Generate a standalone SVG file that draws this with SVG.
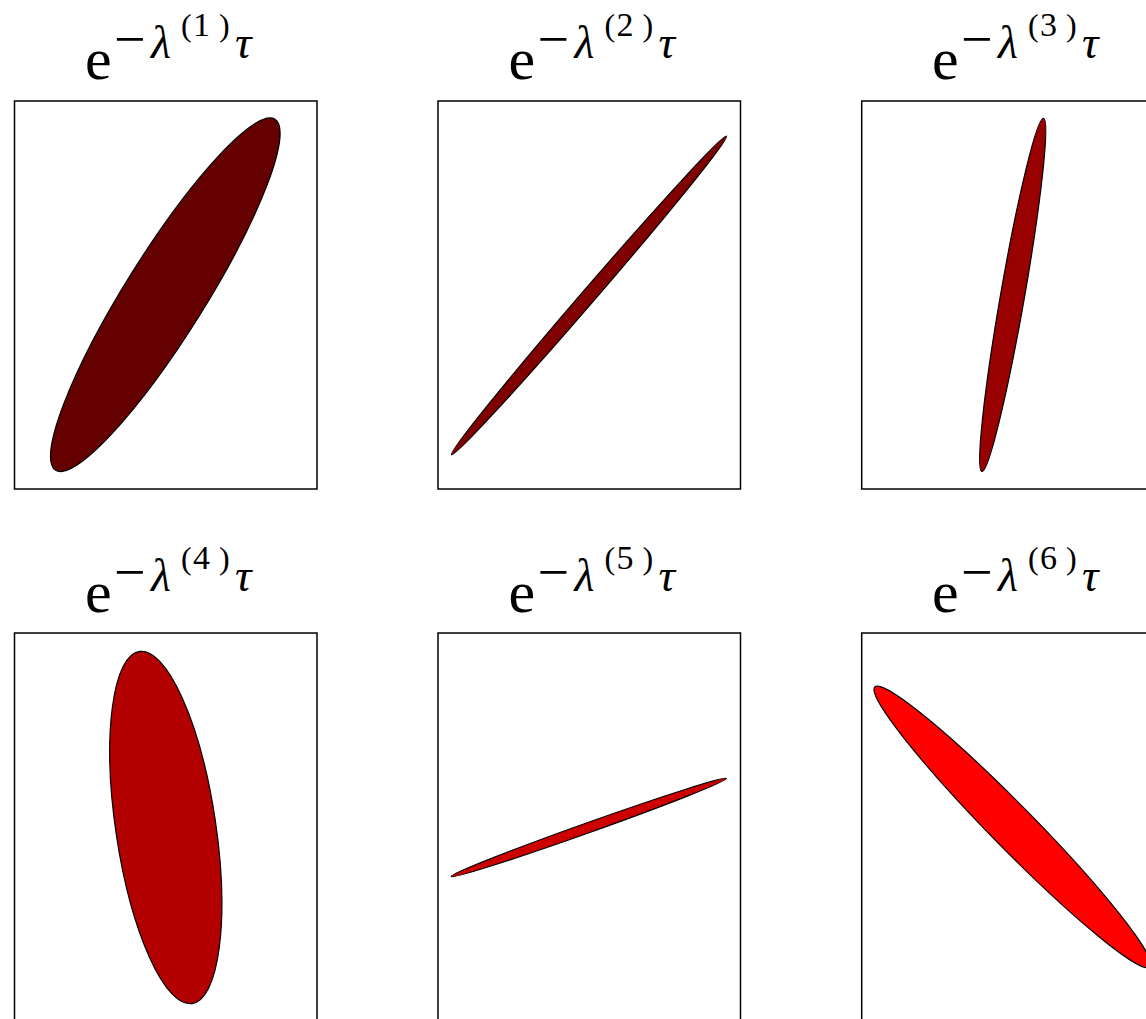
<svg xmlns="http://www.w3.org/2000/svg" width="1146" height="1019" viewBox="0 0 1146 1019">
<style>
.frame{fill:none;stroke:#000;stroke-width:1.5}
.ell{stroke:#000;stroke-width:1.2}
.t{font-family:"Liberation Serif","DejaVu Serif",serif;fill:#000}
.e{font-size:60px}
.m{font-size:56px}
.g{font-size:46px;font-style:italic}
.s{font-size:32px}
.d{font-size:34px}
</style>
<rect width="1146" height="1019" fill="#fff"/>
<defs>
<g id="title">
<text class="t e" x="85" y="79">e</text>
<text class="t m" x="114" y="58">−</text>
<text class="t g" x="151" y="58">λ</text>
<text class="t s" y="36"><tspan x="181">(</tspan><tspan x="219">)</tspan></text>
<text class="t g" x="235" y="58">τ</text>
</g>
</defs>
<g id="panel1">
<use href="#title"/>
<text class="t d" x="193" y="36">1</text>
<rect class="frame" x="14.5" y="101" width="302.5" height="388"/>
<ellipse class="ell" fill="#640000" cx="165.3" cy="294.8" rx="207" ry="40" transform="rotate(-58 165.3 294.8)"/>
</g>
<g id="panel2">
<use href="#title" x="423.5"/>
<text class="t d" x="616.5" y="36">2</text>
<rect class="frame" x="438" y="101" width="302.5" height="388"/>
<ellipse class="ell" fill="#800000" cx="589" cy="295.5" rx="210.5" ry="7" transform="rotate(-49.2 589 295.5)"/>
</g>
<g id="panel3">
<use href="#title" x="847"/>
<text class="t d" x="1040" y="36">3</text>
<rect class="frame" x="861.7" y="101" width="302.5" height="388"/>
<ellipse class="ell" fill="#990000" cx="1012.7" cy="295" rx="179.4" ry="12" transform="rotate(-80.1 1012.7 295)"/>
</g>
<g id="panel4">
<use href="#title" y="533"/>
<text class="t d" x="193" y="569">4</text>
<rect class="frame" x="14.5" y="633" width="302.5" height="388"/>
<ellipse class="ell" fill="#b30000" cx="165.8" cy="827.5" rx="178" ry="50" transform="rotate(81.5 165.8 827.5)"/>
</g>
<g id="panel5">
<use href="#title" x="423.5" y="533"/>
<text class="t d" x="616.5" y="569">5</text>
<rect class="frame" x="438" y="633" width="302.5" height="388"/>
<ellipse class="ell" fill="#cc0000" cx="588.8" cy="827.5" rx="146.2" ry="5" transform="rotate(-19.6 588.8 827.5)"/>
</g>
<g id="panel6">
<use href="#title" x="847" y="533"/>
<text class="t d" x="1040" y="569">6</text>
<rect class="frame" x="861.7" y="633" width="302.5" height="388"/>
<ellipse class="ell" fill="#ff0000" cx="1012.5" cy="827" rx="196.4" ry="21.5" transform="rotate(45.5 1012.5 827)"/>
</g>
<g id="connectors"/>
</svg>
